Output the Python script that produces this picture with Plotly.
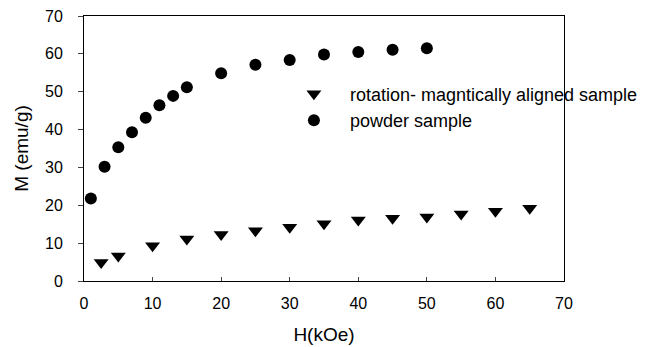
import plotly.graph_objects as go

powder_h = [1, 3, 5, 7, 9, 11, 13, 15, 20, 25, 30, 35, 40, 45, 50]
powder_m = [21.8, 30.2, 35.3, 39.3, 43.1, 46.4, 48.9, 51.2, 54.9, 57.1, 58.4, 59.8, 60.5, 61.1, 61.5]

aligned_h = [2.5, 5, 10, 15, 20, 25, 30, 35, 40, 45, 50, 55, 60, 65]
aligned_m = [4.9, 6.6, 9.3, 11.1, 12.3, 13.3, 14.2, 15.1, 16.1, 16.6, 16.9, 17.7, 18.4, 19.2]

x_ticks = [0, 10, 20, 30, 40, 50, 60, 70]
y_ticks = [0, 10, 20, 30, 40, 50, 60, 70]

font_family = "Arial, Liberation Sans, sans-serif"

fig = go.Figure()
fig.add_trace(go.Scatter(
    x=aligned_h, y=aligned_m, mode="markers",
    name="rotation- magntically aligned sample",
    marker=dict(symbol="triangle-down", size=13, color="black"),
))
fig.add_trace(go.Scatter(
    x=powder_h, y=powder_m, mode="markers",
    name="powder sample",
    marker=dict(symbol="circle", size=12, color="black"),
))

fig.update_layout(
    width=651, height=347,
    margin=dict(l=84, r=87, t=16, b=66, autoexpand=False),
    paper_bgcolor="white", plot_bgcolor="white",
    font=dict(family=font_family, size=16, color="black"),
    showlegend=True,
    legend=dict(x=0.404, y=0.775, xanchor="left", yanchor="top",
                bgcolor="rgba(0,0,0,0)", font=dict(size=18),
                itemwidth=62, tracegroupgap=0),
    xaxis=dict(range=[0, 70], tickvals=x_ticks, ticks="inside", ticklen=4,
               showline=True, linecolor="black", linewidth=1, mirror=True,
               showgrid=False, zeroline=False, ticklabelstandoff=8,
               automargin=False,
               title=dict(text="H(kOe)", standoff=16),
               tickfont=dict(size=16)),
    yaxis=dict(range=[0, 70], tickvals=y_ticks, ticks="outside", ticklen=5,
               showline=True, linecolor="black", linewidth=1, mirror=True,
               showgrid=False, zeroline=False, ticklabelstandoff=12,
               automargin=False,
               title=dict(text="M (emu/g)", standoff=11),
               tickfont=dict(size=16)),
)

fig.write_html("out.html")
